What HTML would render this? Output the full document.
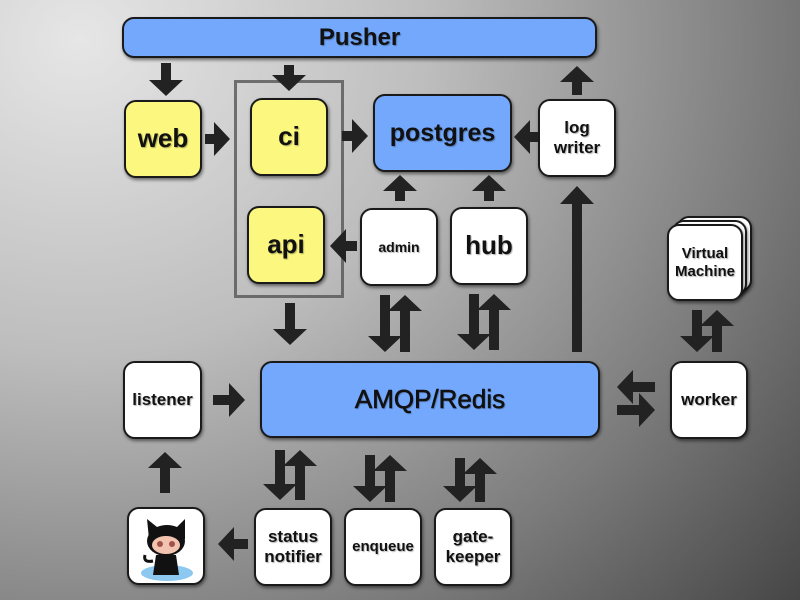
<!DOCTYPE html>
<html><head><meta charset="utf-8"><style>
body{margin:0;width:800px;height:600px;overflow:hidden;background:radial-gradient(ellipse 1000px 900px at 80px 40px,#e6e6e6 0%,#bdbdbd 35%,#7a7a7a 70%,#3c3c3c 100%);font-family:"Liberation Sans",sans-serif;position:relative}
.b{position:absolute;box-sizing:border-box;border:2px solid #1a1a1a;border-radius:12px;display:flex;align-items:center;justify-content:center;text-align:center;font-weight:bold;color:#111;box-shadow:1px 2px 3px rgba(0,0,0,.5);text-shadow:1px 1px 1px rgba(0,0,0,.3);line-height:1.15}
.y{background:#fbf77f;font-size:26px}.bl{background:#74a8fc}.w{background:#fff;font-size:17px}
svg{position:absolute;left:0;top:0}
</style></head><body>
<div style="position:absolute;left:234px;top:80px;width:104px;height:212px;border:3px solid #555;opacity:.8"></div>
<div class="b bl" style="left:122px;top:17px;width:475px;height:41px;font-size:24px">Pusher</div>
<div class="b y" style="left:124px;top:100px;width:78px;height:78px">web</div>
<div class="b y" style="left:250px;top:98px;width:78px;height:78px">ci</div>
<div class="b y" style="left:247px;top:206px;width:78px;height:78px">api</div>
<div class="b bl" style="left:373px;top:94px;width:139px;height:78px;font-size:25px">postgres</div>
<div class="b w" style="left:538px;top:99px;width:78px;height:78px">log<br>writer</div>
<div class="b w" style="left:360px;top:208px;width:78px;height:78px;font-size:14px">admin</div>
<div class="b w" style="left:450px;top:207px;width:78px;height:78px;font-size:26px">hub</div>
<div class="b w" style="left:677px;top:216px;width:75px;height:76px"></div>
<div class="b w" style="left:672px;top:220px;width:75px;height:76px"></div>
<div class="b w" style="left:667px;top:224px;width:76px;height:77px;font-size:15px">Virtual<br>Machine</div>
<div class="b w" style="left:123px;top:361px;width:79px;height:78px">listener</div>
<div class="b bl" style="left:260px;top:361px;width:340px;height:77px;font-size:26px;font-weight:normal;-webkit-text-stroke:0.6px #111">AMQP/Redis</div>
<div class="b w" style="left:670px;top:361px;width:78px;height:78px">worker</div>
<div class="b w" style="left:127px;top:507px;width:78px;height:78px;overflow:hidden">
<svg width="74" height="74" viewBox="0 0 74 74" style="position:relative"><ellipse cx="38" cy="64" rx="26" ry="8" fill="#8cc8f0"/><path d="M20 30 L18 10 L28 18 Q38 14 48 18 L56 10 L56 30 Z" fill="#111"/><ellipse cx="37" cy="32" rx="19" ry="15" fill="#111"/><ellipse cx="37" cy="36" rx="14" ry="9" fill="#f2c4b0"/><circle cx="31" cy="35" r="3" fill="#a0524a"/><circle cx="43" cy="35" r="3" fill="#a0524a"/><path d="M27 46 L47 46 L50 66 L24 66 Z" fill="#111"/><path d="M24 52 Q14 54 16 46" stroke="#111" stroke-width="3" fill="none"/></svg></div>
<div class="b w" style="left:254px;top:508px;width:78px;height:78px">status<br>notifier</div>
<div class="b w" style="left:344px;top:508px;width:78px;height:78px;font-size:15px">enqueue</div>
<div class="b w" style="left:434px;top:508px;width:78px;height:78px">gate-<br>keeper</div>
<svg width="800" height="600" id="s"></svg>
<script>
var s=document.getElementById('s'),o='';
function A(x1,y1,x2,y2,w,h,l){w=w||10;h=h||34;l=l||16;var dx=x2-x1,dy=y2-y1,L=Math.hypot(dx,dy),ux=dx/L,uy=dy/L,px=-uy,py=ux,bx=x2-ux*l,by=y2-uy*l;
var p=[[x1+px*w/2,y1+py*w/2],[bx+px*w/2,by+py*w/2],[bx+px*h/2,by+py*h/2],[x2,y2],[bx-px*h/2,by-py*h/2],[bx-px*w/2,by-py*w/2],[x1-px*w/2,y1-py*w/2]];
o+='<polygon fill="#222" points="'+p.map(q=>q.join(',')).join(' ')+'"/>';}
A(166,63,166,96);A(289,65,289,91);A(205,139,230,139);A(342,136,368,136);A(538,137,514,137);
A(577,95,577,66);A(400,201,400,175);A(489,201,489,175);A(357,246,330,246);A(577,352,577,186,10,34,18);
A(290,303,290,345);A(385,295,385,352);A(405,352,405,295);A(474,294,474,350);A(494,350,494,294);
A(697,310,697,352);A(717,352,717,310);A(213,400,245,400);A(655,387,617,387);A(617,410,655,410);
A(165,493,165,452);A(248,544,218,544);A(280,450,280,500);A(300,500,300,450);A(370,455,370,502);A(390,502,390,455);
A(460,458,460,502);A(480,502,480,458);
s.innerHTML=o;
</script>
</body></html>
